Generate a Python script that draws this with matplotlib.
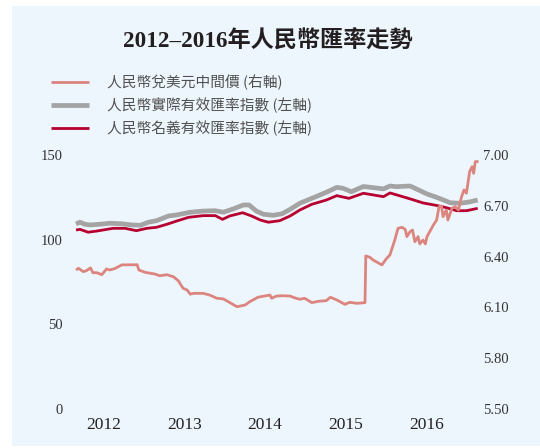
import matplotlib
matplotlib.use('Agg')
import matplotlib.pyplot as plt
from matplotlib.patches import Rectangle
from matplotlib.lines import Line2D

SERIF = ['Liberation Serif', 'Noto Sans CJK TC']
SANS = ['Noto Sans CJK TC', 'DejaVu Sans']

# 人民幣兌美元中間價 (右軸), 時間以小數年表示
usd_t = [2012.00, 2012.03, 2012.09, 2012.13, 2012.18, 2012.21, 2012.26, 2012.32, 2012.38, 2012.42,
         2012.48, 2012.57, 2012.76, 2012.78, 2012.86, 2012.98, 2013.04, 2013.13, 2013.21, 2013.27,
         2013.33, 2013.38, 2013.42, 2013.46, 2013.58, 2013.66, 2013.75, 2013.83, 2013.89, 2014.00,
         2014.10, 2014.16, 2014.26, 2014.41, 2014.43, 2014.49, 2014.56, 2014.66, 2014.72, 2014.78,
         2014.84, 2014.93, 2015.01, 2015.11, 2015.16, 2015.24, 2015.34, 2015.40, 2015.49, 2015.59,
         2015.60, 2015.65, 2015.69, 2015.80, 2015.86, 2015.90, 2015.96, 2016.00, 2016.05, 2016.09,
         2016.11, 2016.15, 2016.18, 2016.21, 2016.25, 2016.27, 2016.31, 2016.34, 2016.36, 2016.44,
         2016.48, 2016.51, 2016.54, 2016.56, 2016.60, 2016.62, 2016.67, 2016.71, 2016.75, 2016.79,
         2016.82, 2016.85, 2016.89, 2016.92, 2016.94, 2016.96, 2017.00]
usd_cny = [6.321, 6.331, 6.311, 6.317, 6.333, 6.305, 6.305, 6.293, 6.327, 6.321,
           6.329, 6.351, 6.352, 6.321, 6.307, 6.297, 6.287, 6.293, 6.281, 6.258,
           6.213, 6.203, 6.178, 6.183, 6.183, 6.173, 6.154, 6.150, 6.134, 6.104,
           6.114, 6.134, 6.160, 6.173, 6.154, 6.167, 6.169, 6.167, 6.156, 6.148,
           6.154, 6.128, 6.136, 6.140, 6.160, 6.144, 6.118, 6.130, 6.124, 6.128,
           6.404, 6.396, 6.380, 6.351, 6.390, 6.410, 6.498, 6.567, 6.573, 6.561,
           6.518, 6.547, 6.557, 6.488, 6.518, 6.475, 6.498, 6.475, 6.518, 6.587,
           6.616, 6.695, 6.699, 6.636, 6.675, 6.616, 6.685, 6.695, 6.675, 6.754,
           6.794, 6.774, 6.902, 6.931, 6.892, 6.961, 6.961]

# 人民幣實際有效匯率指數 (左軸)
reer_t = [2012.00, 2012.05, 2012.11, 2012.17, 2012.30, 2012.42, 2012.57, 2012.69, 2012.80, 2012.90,
          2013.00, 2013.15, 2013.25, 2013.42, 2013.58, 2013.73, 2013.83, 2013.95, 2014.08, 2014.15,
          2014.24, 2014.33, 2014.45, 2014.56, 2014.66, 2014.78, 2014.95, 2015.11, 2015.24, 2015.32,
          2015.42, 2015.57, 2015.82, 2015.90, 2015.98, 2016.15, 2016.36, 2016.48, 2016.65, 2016.77,
          2016.89, 2016.99]
reer = [109.3, 110.3, 109.1, 108.7, 109.1, 109.7, 109.4, 108.7, 108.5, 110.3,
        111.2, 114.0, 114.6, 116.2, 116.9, 117.1, 116.2, 118.1, 120.5, 120.5,
        116.9, 115.0, 114.4, 115.3, 117.9, 121.5, 124.8, 128.0, 130.9, 130.3,
        128.3, 131.4, 130.0, 131.7, 131.3, 131.7, 127.0, 125.0, 121.8, 121.5,
        122.3, 123.4]

# 人民幣名義有效匯率指數 (左軸)
neer_t = [2012.00, 2012.05, 2012.15, 2012.26, 2012.46, 2012.61, 2012.75, 2012.88, 2013.00, 2013.13,
          2013.25, 2013.40, 2013.58, 2013.73, 2013.82, 2013.91, 2014.07, 2014.18, 2014.29, 2014.39,
          2014.53, 2014.66, 2014.78, 2014.93, 2015.11, 2015.24, 2015.39, 2015.57, 2015.82, 2015.90,
          2016.15, 2016.31, 2016.48, 2016.60, 2016.73, 2016.85, 2016.99]
neer = [105.7, 106.1, 104.4, 105.1, 106.7, 106.7, 105.3, 106.7, 107.3, 109.1,
        111.0, 113.2, 114.2, 114.2, 112.0, 114.0, 115.9, 114.0, 111.6, 110.3,
        111.2, 114.0, 117.5, 120.9, 123.4, 126.0, 124.4, 127.4, 125.4, 127.6,
        124.1, 121.7, 120.2, 118.9, 117.1, 117.1, 118.5]

years = [2012, 2013, 2014, 2015, 2016]
left_ticks = [0, 50, 100, 150]
right_ticks = [5.50, 5.80, 6.10, 6.40, 6.70, 7.00]

series_names = ['人民幣兌美元中間價 (右軸)', '人民幣實際有效匯率指數 (左軸)', '人民幣名義有效匯率指數 (左軸)']
c_usd, c_reer, c_neer = '#DC857F', '#A4A4A4', '#B7002F'
lw_usd, lw_reer, lw_neer = 2.0, 3.4, 2.0

W, H = 540, 448
fig = plt.figure(figsize=(W / 100, H / 100), dpi=100)
fig.patch.set_facecolor('white')
fig.patches.append(Rectangle((12 / W, 1 - 446 / H), (W - 12) / W, 440 / H,
                             transform=fig.transFigure, facecolor='#EEF6FD',
                             edgecolor='none', zorder=-10))

ax = fig.add_axes([76 / W, 1 - 409 / H, 402.5 / W, 254 / H])
ax.patch.set_alpha(0)
ax2 = ax.twinx()

ax.plot(reer_t, reer, color=c_reer, lw=lw_reer, solid_capstyle='butt', clip_on=False, zorder=2)
ax.plot(neer_t, neer, color=c_neer, lw=lw_neer, solid_capstyle='butt', clip_on=False, zorder=3)
ax2.plot(usd_t, usd_cny, color=c_usd, lw=lw_usd, solid_capstyle='butt', clip_on=False)

ax.set_xlim(2012, 2017)
ax.set_ylim(0, 150)
ax2.set_ylim(5.5, 7.0)

ax.set_yticks(left_ticks)
ax.set_yticklabels([str(v) for v in left_ticks], family=SERIF, fontsize=10.5, color='#333333')
ax2.set_yticks(right_ticks)
ax2.set_yticklabels(['%.2f' % v for v in right_ticks], family=SERIF, fontsize=10.5, color='#333333')
ax.set_xticks([y + 0.35 for y in years])
ax.set_xticklabels([str(y) for y in years], family=SERIF, fontsize=12.5, color='#222222')

ax.tick_params(axis='y', length=0, pad=9.5)
ax.tick_params(axis='x', length=0, pad=5.5)
ax2.tick_params(axis='y', length=0, pad=3.3)
for a in (ax, ax2):
    for s in a.spines.values():
        s.set_visible(False)

fig.text(267.5 / W, 1 - 42 / H, '2012–2016年人民幣匯率走勢', family=SERIF, fontsize=16.7,
         fontweight='bold', color='#231F20', ha='center', va='center')

# 圖例
rows_y = [82, 105, 128]
for name, col, lw, yy in zip(series_names, [c_usd, c_reer, c_neer], [lw_usd, lw_reer, lw_neer], rows_y):
    fig.add_artist(Line2D([51 / W, 89 / W], [1 - yy / H, 1 - yy / H], color=col, lw=lw,
                          solid_capstyle='butt', transform=fig.transFigure))
    fig.text(107 / W, 1 - yy / H, name, family=SANS, fontsize=10.6, color='#505050',
             ha='left', va='center')

fig.savefig('out.png', dpi=100, facecolor=fig.get_facecolor())
